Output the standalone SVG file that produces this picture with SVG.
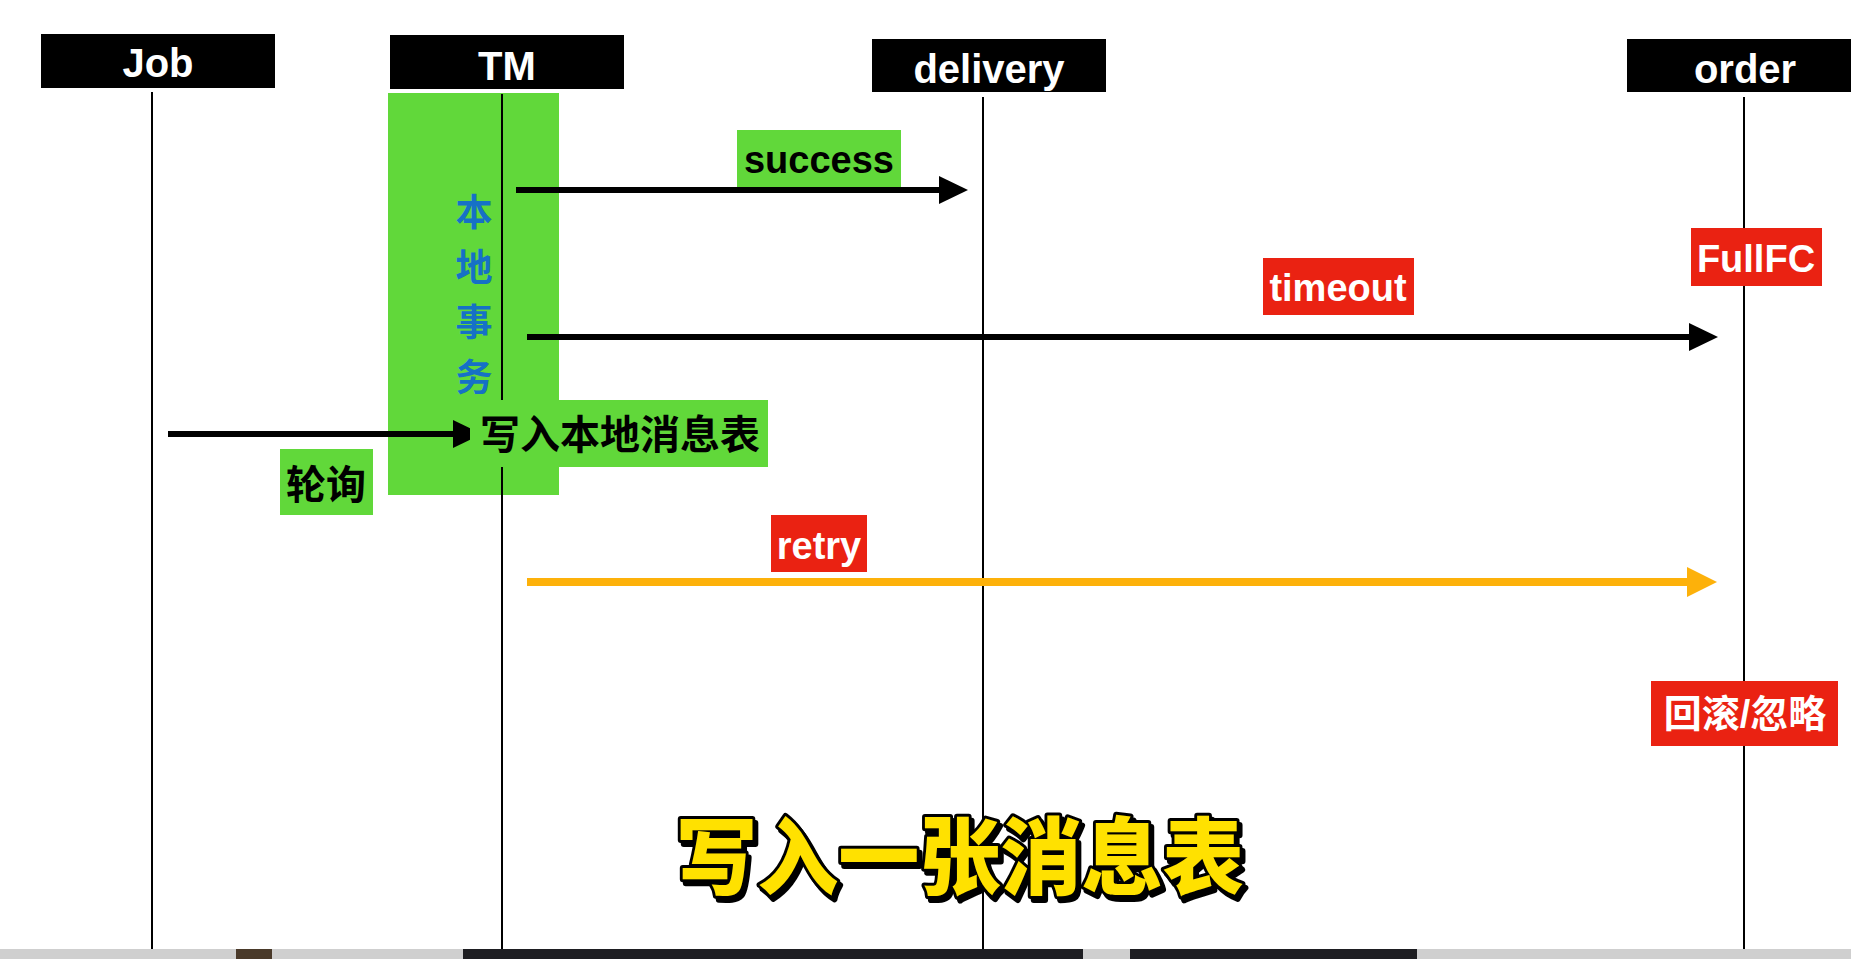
<svg xmlns="http://www.w3.org/2000/svg" width="1851" height="959" viewBox="0 0 1851 959">
<style>
.hdr{fill:#000}
.hdrt{fill:#fff;font-family:"Liberation Sans",Arial,sans-serif;font-weight:700;font-size:40px;text-anchor:middle}
.life{stroke:#000;stroke-width:2;fill:none}
.green{fill:#61D83A}
.red{fill:#EA2212}
.lbl{font-family:"Liberation Sans",Arial,sans-serif;font-weight:700;font-size:38px;text-anchor:middle}
.cjk{font-family:"Liberation Sans","Noto Sans CJK SC",sans-serif;font-weight:700}
.arr{stroke:#000;stroke-width:6;fill:none}
.arro{stroke:#FDB10A;stroke-width:8;fill:none}
</style>
<defs>
<marker id="ah" markerUnits="userSpaceOnUse" markerWidth="30" markerHeight="30" viewBox="0 0 30 30" refX="1" refY="15" orient="auto">
<path d="M0,1 L29,15 L0,29 z" fill="#000"/>
</marker>
<marker id="aho" markerUnits="userSpaceOnUse" markerWidth="32" markerHeight="32" viewBox="0 0 32 32" refX="1" refY="16" orient="auto">
<path d="M0,1 L30,16 L0,31 z" fill="#FDB10A"/>
</marker>
<filter id="shadow" x="-5%" y="-20%" width="110%" height="140%">
<feDropShadow dx="3" dy="4" stdDeviation="0" flood-color="#000" flood-opacity="1"/>
</filter>
</defs>
<rect x="0" y="0" width="1851" height="959" fill="#fff"/>

<g id="lifelines">
<line class="life" x1="152" y1="92" x2="152" y2="949"/>
<line class="life" x1="983" y1="97" x2="983" y2="949"/>
<line class="life" x1="1744" y1="97" x2="1744" y2="949"/>
</g>

<g id="job">
<rect class="hdr" x="41" y="34" width="234" height="54"/>
<text class="hdrt" x="158" y="77">Job</text>
</g>

<g id="tm">
<rect class="hdr" x="390" y="35" width="234" height="54"/>
<text class="hdrt" x="507" y="80">TM</text>
<rect class="green" x="388" y="93" width="171" height="402"/>
<line class="life" x1="502" y1="94" x2="502" y2="949"/>
<text class="cjk" x="474" y="226" font-size="37" fill="#1671C6" text-anchor="middle">本</text>
<text class="cjk" x="474" y="281" font-size="37" fill="#1671C6" text-anchor="middle">地</text>
<text class="cjk" x="474" y="336" font-size="37" fill="#1671C6" text-anchor="middle">事</text>
<text class="cjk" x="474" y="391" font-size="37" fill="#1671C6" text-anchor="middle">务</text>
</g>

<g id="delivery">
<rect class="hdr" x="872" y="39" width="234" height="53"/>
<text class="hdrt" x="989" y="83">delivery</text>
</g>

<g id="order">
<rect class="hdr" x="1627" y="39" width="234" height="53"/>
<text class="hdrt" x="1745" y="83">order</text>
</g>

<g id="connectors">
<line class="arr" x1="516" y1="190" x2="940" y2="190" marker-end="url(#ah)"/>
<line class="arr" x1="527" y1="337" x2="1690" y2="337" marker-end="url(#ah)"/>
<line class="arr" x1="168" y1="434" x2="454" y2="434" marker-end="url(#ah)"/>
<line class="arro" x1="527" y1="582" x2="1688" y2="582" marker-end="url(#aho)"/>
</g>

<g id="write-label">
<rect class="green" x="470" y="400" width="298" height="67"/>
<text class="cjk" x="480" y="449" font-size="40" fill="#000">写入本地消息表</text>
</g>

<g id="poll-label">
<rect class="green" x="280" y="449" width="93" height="66"/>
<text class="cjk" x="326" y="499" font-size="40" fill="#000" text-anchor="middle">轮询</text>
</g>

<g id="success-label">
<rect class="green" x="737" y="130" width="164" height="57"/>
<text class="lbl" x="819" y="173" fill="#000">success</text>
</g>

<g id="timeout-label">
<rect class="red" x="1263" y="258" width="151" height="57"/>
<text class="lbl" x="1338" y="301" fill="#fff">timeout</text>
</g>

<g id="fullfc-label">
<rect class="red" x="1691" y="228" width="131" height="58"/>
<text class="lbl" x="1756" y="272" fill="#fff">FullFC</text>
</g>

<g id="retry-label">
<rect class="red" x="771" y="515" width="96" height="57"/>
<text class="lbl" x="819" y="559" fill="#fff">retry</text>
</g>

<g id="rollback-label">
<rect class="red" x="1651" y="681" width="187" height="65"/>
<text class="cjk" x="1745" y="727" font-size="38" fill="#fff" text-anchor="middle">回滚/忽略</text>
</g>

<g id="subtitle">
<text x="676" y="888" filter="url(#shadow)" font-family="'Noto Sans CJK SC',sans-serif" font-weight="900" font-size="84" fill="#FFE100" stroke="#000" stroke-width="6" stroke-linejoin="round" paint-order="stroke" textLength="568" lengthAdjust="spacingAndGlyphs">写入一张消息表</text>
</g>

<g id="bottom-strip">
<rect x="0" y="949" width="1851" height="10" fill="#cfcfcf"/>
<rect x="236" y="949" width="36" height="10" fill="#4a3a2a"/>
<rect x="463" y="949" width="620" height="10" fill="#1e1e22"/>
<rect x="1130" y="949" width="287" height="10" fill="#1e1e22"/>
</g>
</svg>
